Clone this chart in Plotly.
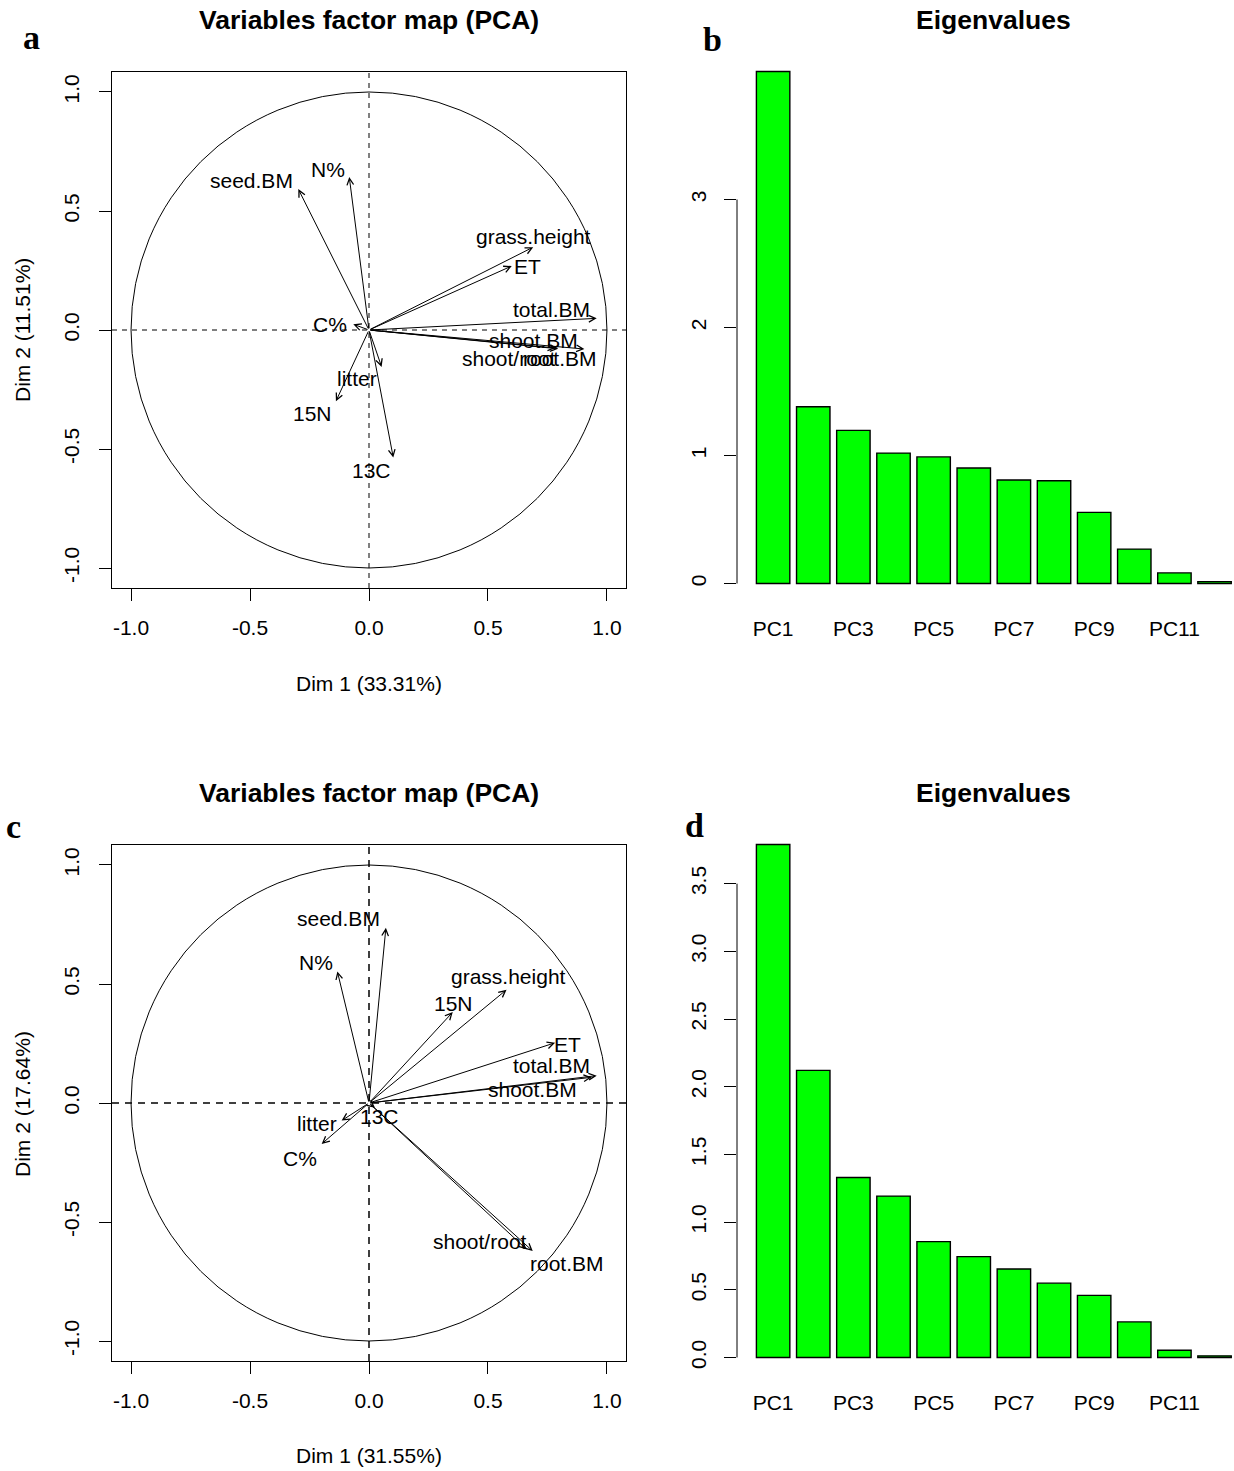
import plotly.graph_objects as go

W, H = 1234, 1471

# ---------------- data ----------------
pcs = ["PC1", "PC2", "PC3", "PC4", "PC5", "PC6", "PC7", "PC8", "PC9", "PC10", "PC11", "PC12"]
pc_ticks = ["PC1", "PC3", "PC5", "PC7", "PC9", "PC11"]

vars_a = ["seed.BM", "N%", "grass.height", "ET", "total.BM", "shoot.BM",
          "shoot/root", "root.BM", "C%", "litter", "15N", "13C"]
dim1_a = [-0.297, -0.083, 0.690, 0.600, 0.957, 0.905, 0.785, 0.795, -0.066, 0.053, -0.139, 0.102]
dim2_a = [0.592, 0.643, 0.348, 0.269, 0.049, -0.080, -0.076, -0.079, 0.024, -0.155, -0.299, -0.536]
pct_a = [33.31, 11.51]
eig_b = [4.00, 1.381, 1.196, 1.019, 0.989, 0.902, 0.809, 0.803, 0.556, 0.269, 0.083, 0.015]

vars_c = ["seed.BM", "N%", "grass.height", "15N", "ET", "total.BM", "shoot.BM",
          "shoot/root", "root.BM", "litter", "13C", "C%"]
dim1_c = [0.071, -0.133, 0.578, 0.352, 0.782, 0.957, 0.936, 0.662, 0.688, -0.115, 0.025, -0.199]
dim2_c = [0.736, 0.553, 0.476, 0.382, 0.253, 0.115, 0.108, -0.615, -0.622, -0.074, -0.020, -0.172]
pct_c = [31.55, 17.64]
eig_d = [3.789, 2.121, 1.329, 1.192, 0.856, 0.745, 0.654, 0.549, 0.459, 0.263, 0.053, 0.012]

# label placement (pixel offsets from arrow tips, screen dx, dy)
lab_shift_a = {"seed.BM": (-47, -9), "N%": (-21, -7), "grass.height": (0, -11), "ET": (16, 1),
               "total.BM": (-45, -9), "shoot.BM": (-51, -9), "shoot/root": (-47, 10),
               "root.BM": (2, 10), "C%": (-23, 0), "litter": (-25, 12), "15N": (-23, 12),
               "13C": (-22, 13)}
lab_shift_c = {"seed.BM": (-47, -9), "N%": (-21, -9), "grass.height": (2, -13), "15N": (1, -9),
               "ET": (12, 2), "total.BM": (-45, -10), "shoot.BM": (-59, 12),
               "shoot/root": (-47, -8), "root.BM": (34, 12), "litter": (-25, 3),
               "13C": (5, 9), "C%": (-22, 15)}

FONT = "Liberation Sans, Arial, Helvetica, sans-serif"
SERIF = "Liberation Serif, Times New Roman, serif"


def px(x):
    return x / W


def py(y):
    return 1 - y / H


fig = go.Figure()

# ---------------- bar traces ----------------
fig.add_trace(go.Bar(x=pcs, y=eig_b, xaxis="x2", yaxis="y2",
                     marker=dict(color="#00FF00", line=dict(color="black", width=1.4)),
                     showlegend=False))
fig.add_trace(go.Bar(x=pcs, y=eig_d, xaxis="x4", yaxis="y4",
                     marker=dict(color="#00FF00", line=dict(color="black", width=1.4)),
                     showlegend=False))

annotations = []
shapes = []

pca_ticks = [-1, -0.5, 0, 0.5, 1]
pca_ticktext = ["-1.0", "-0.5", "0.0", "0.5", "1.0"]


def pca_axes(xdom_px, ydom_px, x_anchor, y_anchor):
    common = dict(showgrid=False, zeroline=False, showline=True, mirror=True,
                  linecolor="black", linewidth=1, ticks="outside", ticklen=12,
                  tickcolor="black", tickwidth=1, tickvals=pca_ticks, ticktext=pca_ticktext,
                  tickfont=dict(family=FONT, size=21, color="black"))
    x = dict(domain=[px(xdom_px[0]), px(xdom_px[1])], range=[-1.08, 1.08], anchor=x_anchor,
             ticklabelstandoff=9, **common)
    y = dict(domain=[py(ydom_px[1]), py(ydom_px[0])], range=[-1.084, 1.084], anchor=y_anchor,
             tickangle=-90, ticklabelstandoff=12, **common)
    return x, y


xa1, ya1 = pca_axes((112, 626), (72, 588), "y", "x")
xa3, ya3 = pca_axes((112, 626), (845, 1361), "y3", "x3")


def bar_axes(ydom_px, vals, x_anchor, y_anchor, tickvals, ticktext):
    top = max(vals)
    pad = 0.04 * top
    x = dict(domain=[px(737), 1.0], type="category", range=[-0.9, 11.485], anchor=x_anchor,
             showgrid=False, zeroline=False, showline=False, ticks="",
             tickvals=pc_ticks, ticklabelstandoff=10,
             tickfont=dict(family=FONT, size=21, color="black"))
    y = dict(domain=[py(ydom_px[1]), py(ydom_px[0])], range=[-pad, top + pad], anchor=y_anchor,
             showgrid=False, zeroline=False, showline=False, ticks="outside", ticklen=12,
             tickcolor="black", tickwidth=1, tickvals=tickvals, ticktext=ticktext,
             tickangle=-90, ticklabelstandoff=10,
             tickfont=dict(family=FONT, size=21, color="black"))
    return x, y


xa2, ya2 = bar_axes((51, 604), eig_b, "y2", "x2", [0, 1, 2, 3], ["0", "1", "2", "3"])
d_ticks = [0, 0.5, 1.0, 1.5, 2.0, 2.5, 3.0, 3.5]
xa4, ya4 = bar_axes((824, 1378), eig_d, "y4", "x4", d_ticks, [f"{v:.1f}" for v in d_ticks])

# y-axis lines of bar plots (only across tick range, as in R)
shapes.append(dict(type="line", xref="paper", yref="y2", x0=px(737), x1=px(737), y0=0, y1=3,
                   line=dict(color="black", width=1)))
shapes.append(dict(type="line", xref="paper", yref="y4", x0=px(737), x1=px(737), y0=0, y1=3.5,
                   line=dict(color="black", width=1)))


def pca_panel(names, d1, d2, shifts, xr, yr, dash, dw):
    shapes.append(dict(type="circle", xref=xr, yref=yr, x0=-1, x1=1, y0=-1, y1=1,
                       line=dict(color="black", width=1)))
    shapes.append(dict(type="line", xref=xr, yref=yr, x0=-1.08, x1=1.08, y0=0, y1=0,
                       line=dict(color="black", width=dw, dash=dash)))
    shapes.append(dict(type="line", xref=xr, yref=yr, x0=0, x1=0, y0=-1.084, y1=1.084,
                       line=dict(color="black", width=dw, dash=dash)))
    for n, a, b in zip(names, d1, d2):
        annotations.append(dict(x=a, y=b, ax=0, ay=0, xref=xr, yref=yr, axref=xr, ayref=yr,
                                text="", showarrow=True, arrowhead=5, arrowsize=1.3,
                                arrowwidth=1, arrowcolor="black", standoff=0, startstandoff=0))
        dx, dy = shifts[n]
        annotations.append(dict(x=a, y=b, xref=xr, yref=yr, text=n, showarrow=False,
                                xshift=dx, yshift=-dy, xanchor="center", yanchor="middle",
                                font=dict(family=FONT, size=21, color="black")))


pca_panel(vars_a, dim1_a, dim2_a, lab_shift_a, "x", "y", "5px,5px", 1)
pca_panel(vars_c, dim1_c, dim2_c, lab_shift_c, "x3", "y3", "7px,6px", 1.5)


def txt(x, y, s, size, bold=False, family=FONT, angle=0):
    annotations.append(dict(x=px(x), y=py(y), xref="paper", yref="paper", text=(f"<b>{s}</b>" if bold else s),
                            showarrow=False, xanchor="center", yanchor="middle", textangle=angle,
                            font=dict(family=family, size=size, color="black")))


# titles
txt(369, 20, "Variables factor map (PCA)", 26.5, bold=True)
txt(369, 793, "Variables factor map (PCA)", 26.5, bold=True)
txt(993, 20, "Eigenvalues", 26.5, bold=True)
txt(993, 793, "Eigenvalues", 26.5, bold=True)
# axis titles
txt(369, 683, f"Dim 1 ({pct_a[0]:.2f}%)", 21)
txt(22, 330, f"Dim 2 ({pct_a[1]:.2f}%)", 21, angle=-90)
txt(369, 1455, f"Dim 1 ({pct_c[0]:.2f}%)", 21)
txt(22, 1104, f"Dim 2 ({pct_c[1]:.2f}%)", 21, angle=-90)
# panel letters
txt(31, 38, "a", 34, bold=True, family=SERIF)
txt(712, 40, "b", 34, bold=True, family=SERIF)
txt(13, 826, "c", 34, bold=True, family=SERIF)
txt(694, 825, "d", 34, bold=True, family=SERIF)

fig.update_layout(
    width=W, height=H, autosize=False,
    margin=dict(l=0, r=0, t=0, b=0),
    paper_bgcolor="white", plot_bgcolor="white",
    bargap=0.1667,
    showlegend=False,
    xaxis=xa1, yaxis=ya1, xaxis2=xa2, yaxis2=ya2, xaxis3=xa3, yaxis3=ya3, xaxis4=xa4, yaxis4=ya4,
    annotations=annotations, shapes=shapes,
)

fig.write_html("out.html")
